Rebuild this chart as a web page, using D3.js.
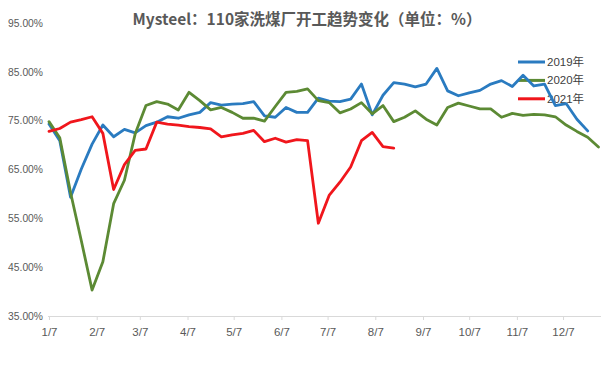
<!DOCTYPE html>
<html>
<head>
<meta charset="utf-8">
<script src="https://cdn.jsdelivr.net/npm/d3@7/dist/d3.min.js"></script>
<style>
  html, body { margin: 0; padding: 0; background: #fff; }
  svg { display: block; }
</style>
</head>
<body>
<svg id="chart" width="615" height="366"></svg>
<script>
// ---- data ----
const titleText = "Mysteel：110家洗煤厂开工趋势变化（单位：%）";
const seriesNames = ["2019年", "2020年", "2021年"];
const xTickLabels = ["1/7","2/7","3/7","4/7","5/7","6/7","7/7","8/7","9/7","10/7","11/7","12/7"];
const yTicks = [35, 45, 55, 65, 75, 85, 95];

const values2019 = [74.3,70.9,59.3,65.1,70.2,74.1,71.7,73.2,72.5,74.0,74.7,75.8,75.5,76.2,76.7,78.7,78.2,78.4,78.5,78.9,
  76.0,75.7,77.7,76.7,76.7,79.6,79.0,78.9,79.4,82.5,76.2,80.2,82.8,82.5,81.9,82.5,85.7,81.1,80.1,80.7,
  81.2,82.5,83.2,82.0,84.3,82.1,82.5,78.1,78.5,75.3,72.9];
const values2020 = [74.8,71.5,60.3,50.4,40.3,46.1,58.0,62.8,72.3,78.1,78.9,78.4,77.2,80.8,79.1,77.2,77.7,76.7,75.5,75.5,
  74.9,77.9,80.8,81.0,81.5,79.1,78.7,76.6,77.4,78.7,76.4,78.1,74.8,75.7,77.0,75.3,74.1,77.7,78.6,78.0,
  77.4,77.4,75.7,76.5,76.1,76.3,76.2,75.8,74.1,72.8,71.6,69.6];
const values2021 = [72.8,73.4,74.7,75.2,75.8,72.4,60.9,66.0,68.9,69.2,74.7,74.3,74.1,73.8,73.6,73.3,71.7,72.1,72.4,73.0,
  70.7,71.4,70.6,71.1,70.9,54.0,59.7,62.4,65.5,70.9,72.6,69.7,69.4];

const colors = ["#2a7bc0", "#5c8a34", "#f0161c"];

// ---- setup ----
const svg = d3.select("#chart");
const start = new Date(2019, 0, 7);
const dateAt = i => d3.timeDay.offset(start, 7 * i);

const x = d3.scaleTime().domain([start, new Date(2019, 11, 31)]).range([49, 600]);
const y = d3.scaleLinear().domain([35, 95]).range([316, 23]);

const tickDates = xTickLabels.map((t, i) => new Date(2019, i, 7));

// title
svg.append("text")
  .attr("x", 307).attr("y", 25)
  .attr("text-anchor", "middle")
  .attr("font-family", "'Noto Sans CJK SC', sans-serif")
  .attr("font-weight", "bold")
  .attr("font-size", 15.5)
  .attr("fill", "#595959")
  .text(titleText);

// y axis labels (no line)
const yAxis = d3.axisLeft(y).tickValues(yTicks).tickSize(0).tickPadding(0)
  .tickFormat(d => d.toFixed(2) + "%");
const yg = svg.append("g").attr("transform", "translate(43,0)").call(yAxis);
yg.select(".domain").remove();
yg.selectAll("text")
  .attr("font-family", "'Liberation Sans', Arial, sans-serif")
  .attr("font-size", 10.3)
  .attr("fill", "#595959");

// x axis
const xAxis = d3.axisBottom(x).tickValues(tickDates).tickSize(4).tickPadding(8)
  .tickFormat((d, i) => xTickLabels[i]);
const xg = svg.append("g").attr("transform", "translate(0,316)").call(xAxis);
xg.select(".domain").attr("stroke", "#d9d9d9").attr("d", "M48,0.5H601");
xg.selectAll(".tick line").attr("stroke", "#d9d9d9");
xg.selectAll("text")
  .attr("font-family", "'Liberation Sans', Arial, sans-serif")
  .attr("font-size", 11.5)
  .attr("fill", "#595959");

// legend
const legend = svg.append("g");
seriesNames.forEach((name, k) => {
  const ly = 62 + k * 18.4;
  legend.append("line")
    .attr("x1", 518).attr("x2", 545).attr("y1", ly).attr("y2", ly)
    .attr("stroke", colors[k]).attr("stroke-width", 3);
  legend.append("text")
    .attr("x", 547).attr("y", ly + 4)
    .attr("font-family", "'Liberation Sans', 'Noto Sans CJK SC', sans-serif")
    .attr("font-size", 11.5)
    .attr("fill", "#404040")
    .text(name);
});

// lines
const line = d3.line()
  .x((d, i) => x(dateAt(i)))
  .y(d => y(d));

[values2019, values2020, values2021].forEach((vals, k) => {
  svg.append("path")
    .datum(vals)
    .attr("fill", "none")
    .attr("stroke", colors[k])
    .attr("stroke-width", 2.8)
    .attr("stroke-linejoin", "round")
    .attr("stroke-linecap", "round")
    .attr("d", line);
});
</script>
</body>
</html>
